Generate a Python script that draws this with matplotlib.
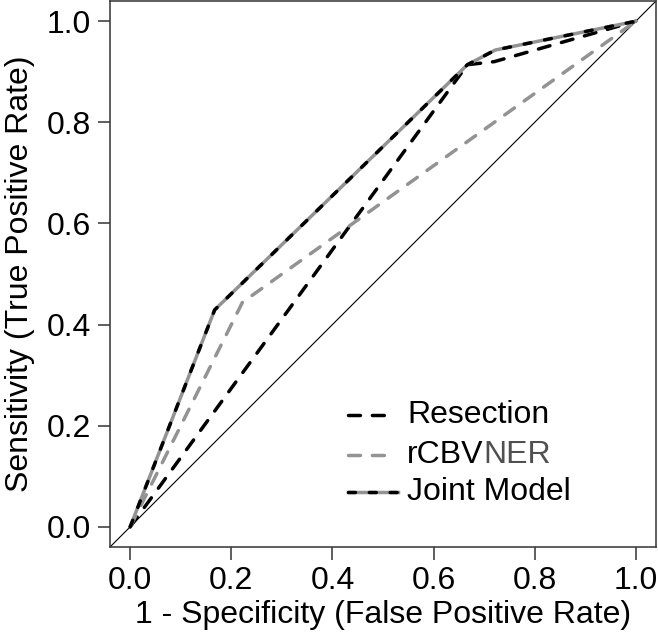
import numpy as np
import matplotlib
matplotlib.use("Agg")
import matplotlib.pyplot as plt

plt.rcParams['font.family'] = ['Liberation Sans', 'DejaVu Sans']
plt.rcParams['lines.scale_dashes'] = False

# ROC curve points (false positive rate, true positive rate)
resection_fpr = [0.0, 0.667, 0.72, 1.0]
resection_tpr = [0.0, 0.914, 0.92, 1.0]

rcbv_fpr = [0.0, 0.222, 1.0]
rcbv_tpr = [0.0, 0.444, 1.0]

joint_fpr = [0.0, 0.167, 0.667, 0.722, 1.0]
joint_tpr = [0.0, 0.429, 0.914, 0.943, 1.0]

ticks = [0.0, 0.2, 0.4, 0.6, 0.8, 1.0]
tick_labels = ['0.0', '0.2', '0.4', '0.6', '0.8', '1.0']

GRAY = '#939393'
FS = 23

fig = plt.figure(figsize=(6.58, 6.36), dpi=100)
ax = fig.add_axes([110 / 658, 89 / 636, 546 / 658, 546 / 636])

dash = (8.6, 8.6)
jdash = (5, 10)

# reference diagonal
ax.plot([-0.04, 1.04], [-0.04, 1.04], color='black', lw=0.8)

ax.plot(resection_fpr, resection_tpr, color='black', lw=2.5,
        dashes=dash, dash_capstyle='round')
ax.plot(rcbv_fpr, rcbv_tpr, color=GRAY, lw=2.5,
        dashes=dash, dash_capstyle='round')
ax.plot(joint_fpr, joint_tpr, color=GRAY, lw=2.5, solid_capstyle='round')
ax.plot(joint_fpr, joint_tpr, color='black', lw=2.5,
        dashes=jdash, dash_capstyle='round')

ax.set_xlim(-0.04, 1.04)
ax.set_ylim(-0.04, 1.04)
ax.set_xticks(ticks)
ax.set_xticklabels(tick_labels)
ax.set_yticks(ticks)
ax.set_yticklabels(tick_labels)

for s in ax.spines.values():
    s.set_linewidth(1.1)
    s.set_color('#333333')
ax.tick_params(direction='out', length=9, width=1.1, color='#333333',
               labelsize=FS, pad=4.5)

ax.set_xlabel('1 - Specificity (False Positive Rate)', fontsize=FS, va='top')
ax.xaxis.set_label_coords(0.5, -0.097)
ax.set_ylabel('Sensitivity (True Positive Rate)', fontsize=FS)
ax.yaxis.set_label_coords(-0.137, 0.5)

# legend drawn by hand so "NER" can take its own colour
hx0, hx1, tx = 0.436, 0.516, 0.544
rows = [0.2418, 0.1685, 0.1007]
ax.plot([hx0, hx1], [rows[0]] * 2, transform=ax.transAxes, color='black',
        lw=2.5, dashes=dash, dash_capstyle='round')
ax.plot([hx0, hx1], [rows[1]] * 2, transform=ax.transAxes, color=GRAY,
        lw=2.5, dashes=dash, dash_capstyle='round')
ax.plot([hx0, hx1 + 0.012], [rows[2]] * 2, transform=ax.transAxes, color=GRAY,
        lw=2.5)
ax.plot([hx0, hx1 + 0.012], [rows[2]] * 2, transform=ax.transAxes, color='black',
        lw=2.5, dashes=jdash, dash_capstyle='round')

ax.text(tx, rows[0], 'Resection', transform=ax.transAxes, fontsize=FS,
        va='center', ha='left')
t2 = ax.text(tx, rows[1], 'rCBV', transform=ax.transAxes, fontsize=FS,
             va='center', ha='left')
ax.annotate('NER', xy=(1, 0), xycoords=t2, fontsize=FS, va='bottom',
            ha='left', color='#505050')
ax.text(tx, rows[2], 'Joint Model', transform=ax.transAxes, fontsize=FS,
        va='center', ha='left')

fig.savefig('out.png', dpi=100)
